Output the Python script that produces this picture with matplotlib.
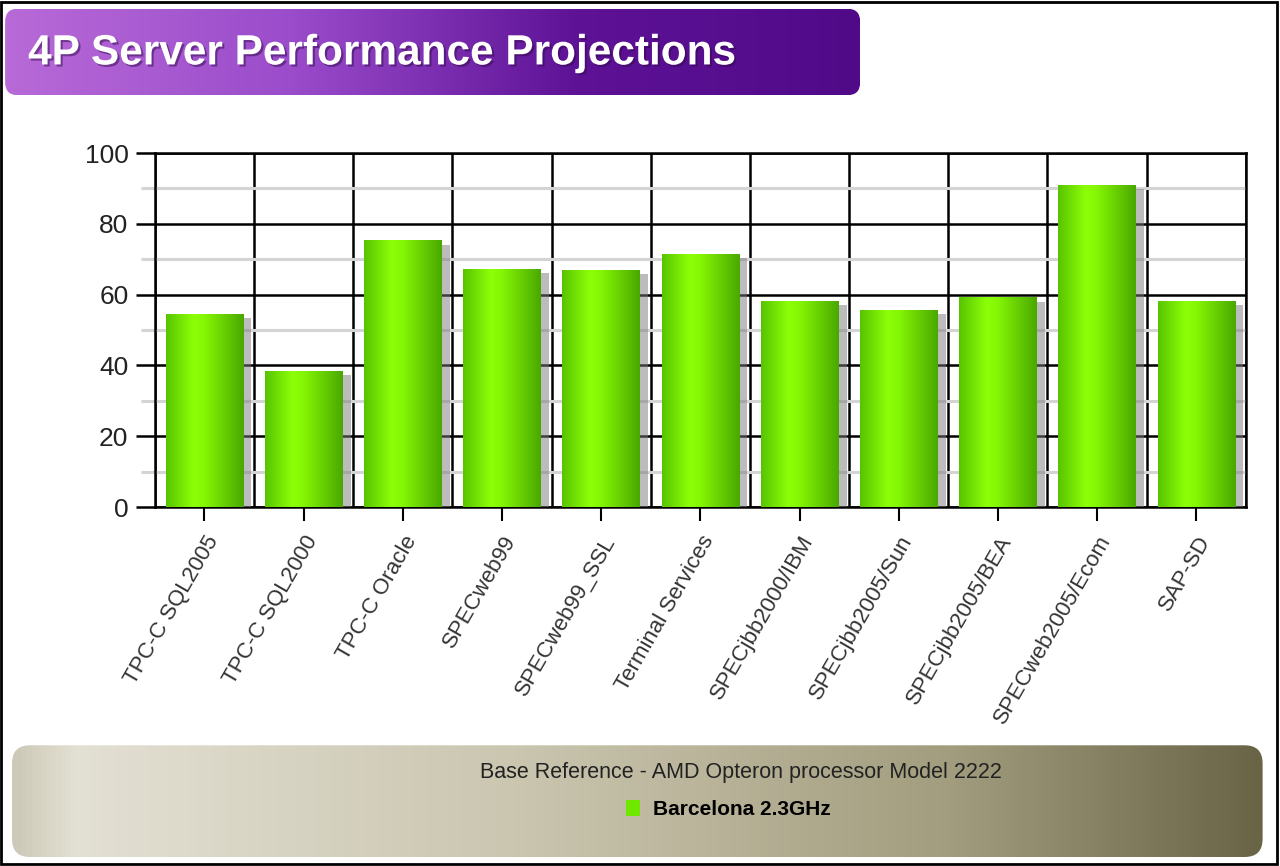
import numpy as np
import matplotlib
matplotlib.use("Agg")
import matplotlib.pyplot as plt
import matplotlib.patheffects as pe
from matplotlib.patches import FancyBboxPatch, Rectangle
from matplotlib.colors import LinearSegmentedColormap

plt.rcParams['font.family'] = ['Liberation Sans', 'DejaVu Sans']

# data
benchmarks = ["TPC-C SQL2005", "TPC-C SQL2000", "TPC-C Oracle", "SPECweb99",
              "SPECweb99_SSL", "Terminal Services", "SPECjbb2000/IBM",
              "SPECjbb2005/Sun", "SPECjbb2005/BEA", "SPECweb2005/Ecom", "SAP-SD"]
barcelona = [54.5, 38.5, 75.3, 67.2, 67.0, 71.5, 58.2, 55.6, 59.2, 91.0, 58.2]
yticks = [0, 20, 40, 60, 80, 100]
yminor = [10, 30, 50, 70, 90]

title = "4P Server Performance Projections"
base_note = "Base Reference - AMD Opteron processor Model 2222"
series_name = "Barcelona 2.3GHz"

fig = plt.figure(figsize=(12.8, 8.66), dpi=100)

# title banner (purple gradient, rounded)
ban = fig.add_axes([0.004, 0.890, 0.668, 0.100])
ban.set_axis_off()
ban.set_xlim(0, 855)
ban.set_ylim(0, 87)
purple = LinearSegmentedColormap.from_list("purple", ["#b86ad8", "#9a4ccb", "#5e1296", "#500a88"])
im = ban.imshow(np.linspace(0, 1, 256)[None, :], cmap=purple, aspect="auto", extent=(0, 855, 0, 87))
box = FancyBboxPatch((0, 0), 855, 87, boxstyle="round,pad=0,rounding_size=13",
                     fc="none", ec="none")
ban.add_patch(box)
im.set_clip_path(box)
ban.text(23, 42, title, color="white", fontsize=30.5, fontweight="bold", va="center",
         path_effects=[pe.withSimplePatchShadow(offset=(1.5, -1.5), shadow_rgbFace="#30084a", alpha=0.5)])

# main chart
ax = fig.add_axes([0.121, 0.4145, 0.8523, 0.4088])
x = np.arange(len(benchmarks)) + 0.5
bars = ax.bar(x, barcelona, width=0.78, color="#70e000", zorder=3,
              path_effects=[pe.SimplePatchShadow(offset=(6, -3), shadow_rgbFace="#7a7a7a", alpha=0.5),
                            pe.Normal()])
green = LinearSegmentedColormap.from_list(
    "green", [(0, "#58c400"), (0.35, "#8cff08"), (0.5, "#84f604"), (1, "#4aa800")])
grad = np.linspace(0, 1, 128)[None, :]
for b in bars:
    x0, w, h = b.get_x(), b.get_width(), b.get_height()
    gi = ax.imshow(grad, cmap=green, aspect="auto", extent=(x0, x0 + w, 0, h), zorder=4)
    gi.set_clip_path(b)

ax.set_xlim(0, len(benchmarks))
ax.set_ylim(0, 100)
ax.set_xticks(x)
ax.set_xticklabels(benchmarks, rotation=60, ha="right", rotation_mode="anchor",
                   fontsize=16, color="#333333")
ax.set_xticks(np.arange(len(benchmarks) + 1), minor=True)
ax.set_yticks(yticks)
ax.set_yticks(yminor, minor=True)
ax.tick_params(axis="y", which="major", labelsize=19, length=14, width=1.8, pad=5, labelcolor="#222222")
ax.tick_params(axis="y", which="minor", length=10, width=2.2, color="#d4d4d4")
ax.tick_params(axis="x", which="major", length=10, width=1.5, pad=8)
ax.tick_params(axis="x", which="minor", length=0)
ax.set_axisbelow(True)
ax.grid(which="major", axis="y", color="black", lw=1.8)
ax.grid(which="minor", axis="y", color="#d4d4d4", lw=2.2)
ax.grid(which="minor", axis="x", color="black", lw=1.8)
for s in ax.spines.values():
    s.set_linewidth(1.8)
    s.set_color("black")

# bottom legend panel
leg = fig.add_axes([0.0094, 0.0104, 0.977, 0.129])
leg.set_axis_off()
leg.set_xlim(0, 1250)
leg.set_ylim(0, 112)
olive = LinearSegmentedColormap.from_list(
    "olive", [(0, "#cdc9b8"), (0.05, "#e3e0d4"), (0.4, "#cbc6b0"), (0.75, "#a29d7e"), (1, "#6a6446")])
im2 = leg.imshow(np.linspace(0, 1, 256)[None, :], cmap=olive, aspect="auto", extent=(0, 1250, 0, 112))
box2 = FancyBboxPatch((0, 0), 1250, 112, boxstyle="round,pad=0,rounding_size=18", fc="none", ec="none")
leg.add_patch(box2)
im2.set_clip_path(box2)
leg.text(729, 85, base_note, ha="center", va="center", fontsize=15.5, color="#222222")
fig.legend(handles=[Rectangle((0, 0), 1, 1, fc="#6fe800")], labels=[series_name],
           loc="center", bbox_to_anchor=(0.569, 0.065), frameon=False,
           prop=dict(weight="bold", size=15), handlelength=0.7, handleheight=0.8,
           handletextpad=0.6)

# slide border
fig.add_artist(Rectangle((0.001, 0.002), 0.997, 0.996, transform=fig.transFigure,
                         fill=False, ec="black", lw=2))

fig.savefig("out.png", dpi=100)
